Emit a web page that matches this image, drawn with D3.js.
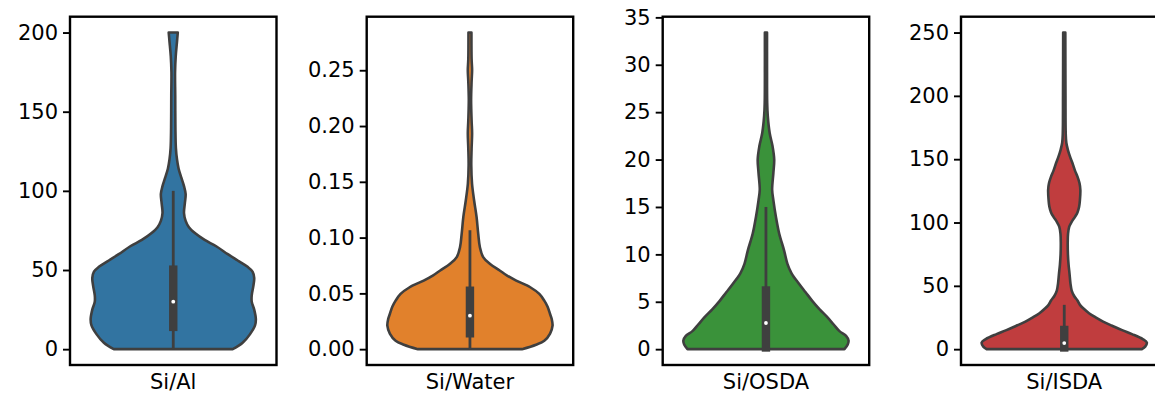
<!DOCTYPE html>
<html>
<head>
<meta charset="utf-8">
<script src="https://cdn.jsdelivr.net/npm/d3@7"></script>
<style>
  html, body { margin: 0; padding: 0; background: #fff; }
  svg { display: block; }
  text { font-family: "DejaVu Sans", sans-serif; fill: #000; }
</style>
</head>
<body>
<svg id="chart" width="1155" height="393"></svg>
<script>
// ---------- data ----------
const categories = ["Si/Al", "Si/Water", "Si/OSDA", "Si/ISDA"];
const colors = ["#3274a1", "#e1812c", "#3a923a", "#c03d3e"];

// y-axis tick values for each panel
const ticksSiAl = [0, 50, 100, 150, 200];
const ticksSiWater = [0, 0.05, 0.10, 0.15, 0.20, 0.25];
const ticksSiOSDA = [0, 5, 10, 15, 20, 25, 30, 35];
const ticksSiISDA = [0, 50, 100, 150, 200, 250];
const tickFormats = [".0f", ".2f", ".0f", ".0f"];

// violin profiles: [value, relative density (1 = widest)]
const densitySiAl = [
  [0, 0.72], [4, 0.84], [9.5, 0.93], [15, 0.99], [19, 1.0], [25, 0.98], [30, 0.95],
  [34, 0.95], [40, 0.97], [45, 0.98], [49, 0.96], [52, 0.90], [56, 0.78], [60, 0.66],
  [65, 0.52], [69, 0.38], [73, 0.27], [77, 0.19], [81, 0.15], [86, 0.13], [92, 0.14],
  [98, 0.15], [103, 0.13], [108, 0.10], [114, 0.065], [120, 0.045], [127, 0.032],
  [140, 0.026], [160, 0.024], [175, 0.022], [185, 0.03], [194, 0.045], [200, 0.055]
];
const densitySiWater = [
  [0, 0.63], [0.004, 0.80], [0.0075, 0.90], [0.014, 0.97], [0.021, 1.0], [0.027, 0.99],
  [0.0315, 0.97], [0.038, 0.94], [0.0435, 0.90], [0.0495, 0.84], [0.0555, 0.73],
  [0.0615, 0.56], [0.066, 0.45], [0.0705, 0.36], [0.0765, 0.24], [0.0825, 0.16],
  [0.0915, 0.12], [0.1035, 0.10], [0.1185, 0.08], [0.1335, 0.05], [0.1485, 0.025],
  [0.165, 0.016], [0.18, 0.02], [0.1935, 0.026], [0.205, 0.02], [0.2235, 0.014],
  [0.24, 0.02], [0.25, 0.026], [0.26, 0.02], [0.2838, 0.018]
];
const densitySiOSDA = [
  [0, 0.95], [0.5, 0.99], [0.9, 1.0], [1.4, 0.97], [1.9, 0.89], [2.6, 0.82], [3.4, 0.74],
  [4.2, 0.65], [5.1, 0.56], [6.0, 0.48], [6.9, 0.40], [8.0, 0.31], [9.0, 0.26],
  [10.4, 0.22], [12.2, 0.16], [14.0, 0.12], [15.7, 0.09], [16.8, 0.075], [18.6, 0.09],
  [20.0, 0.10], [21.4, 0.08], [22.8, 0.045], [24.6, 0.022], [26, 0.015], [30, 0.013],
  [33.4, 0.013]
];
const densitySiISDA = [
  [0, 0.94], [2, 0.98], [5.3, 1.0], [8, 0.95], [11.9, 0.82], [15, 0.70], [18.5, 0.58],
  [21.8, 0.47], [25.1, 0.38], [28.4, 0.30], [31.7, 0.24], [35, 0.19], [38.4, 0.16],
  [42, 0.12], [46.3, 0.09], [52, 0.075], [59.5, 0.064], [67, 0.052], [75.4, 0.044],
  [84, 0.042], [91.3, 0.046], [96.6, 0.06], [100.5, 0.09], [104.5, 0.13], [108, 0.16],
  [112.4, 0.18], [118, 0.19], [125.7, 0.195], [131, 0.185], [136.2, 0.16], [141, 0.13],
  [146.8, 0.10], [152, 0.07], [157.4, 0.044], [163, 0.025], [170, 0.018], [200, 0.015],
  [250, 0.013]
];

// inner box stats: [whisker low, q1, median, q3, whisker high]
const boxSiAl = [0, 13, 30, 51.3, 100];
const boxSiWater = [0, 0.0127, 0.030, 0.0539, 0.1066];
const boxSiOSDA = [0, 0, 2.76, 6.37, 15.0];
const boxSiISDA = [0, 0, 4.8, 16.5, 35];

const densities = [densitySiAl, densitySiWater, densitySiOSDA, densitySiISDA];
const boxes = [boxSiAl, boxSiWater, boxSiOSDA, boxSiISDA];
const tickSets = [ticksSiAl, ticksSiWater, ticksSiOSDA, ticksSiISDA];

// ---------- layout ----------
const svg = d3.select("#chart");
const panelLeft = [70, 366.7, 662.7, 961];
const panelW = 206.5;
const plotTop = 16.7, plotBottom = 365;
const gray = "#3f3f3f";
const fontPx = "21px";

categories.forEach((cat, i) => {
  const dens = densities[i];
  const vmin = d3.min(dens, d => d[0]);
  const vmax = d3.max(dens, d => d[0]);
  const pad = (vmax - vmin) * 0.05;
  const y = d3.scaleLinear().domain([vmin - pad, vmax + pad]).range([plotBottom, plotTop]);
  const x = d3.scaleLinear().domain([-0.5, 0.5]).range([panelLeft[i], panelLeft[i] + panelW]);

  const g = svg.append("g");

  // violin body
  const area = d3.area()
    .y(d => y(d[0]))
    .x0(d => x(-0.4 * d[1]))
    .x1(d => x(0.4 * d[1]))
    .curve(d3.curveCatmullRom.alpha(0.5));
  g.append("path")
    .datum(dens)
    .attr("d", area)
    .attr("fill", colors[i])
    .attr("stroke", gray)
    .attr("stroke-width", 2.6)
    .attr("stroke-linejoin", "round");

  // inner box
  const [wlo, q1, med, q3, whi] = boxes[i];
  g.append("line")
    .attr("x1", x(0)).attr("x2", x(0))
    .attr("y1", y(wlo)).attr("y2", y(whi))
    .attr("stroke", gray).attr("stroke-width", 2.8);
  g.append("rect")
    .attr("x", x(0) - 4.2).attr("width", 8.4)
    .attr("y", y(q3) - 2.5).attr("height", y(q1) - y(q3) + 5)
    .attr("fill", gray);
  g.append("circle")
    .attr("cx", x(0)).attr("cy", y(med)).attr("r", 1.9)
    .attr("fill", "#fff");

  // y axis
  const axis = d3.axisLeft(y).tickValues(tickSets[i])
    .tickFormat(d3.format(tickFormats[i]))
    .tickSize(7).tickPadding(5);
  const ag = g.append("g").attr("transform", `translate(${panelLeft[i]},0)`).call(axis);
  ag.select(".domain").remove();
  ag.selectAll(".tick line").attr("stroke", "#000").attr("stroke-width", 1.9);
  ag.selectAll(".tick text")
    .attr("font-size", fontPx)
    .style("font-family", "'DejaVu Sans', sans-serif")
    .attr("fill", "#000");

  // frame
  g.append("rect")
    .attr("x", panelLeft[i]).attr("y", plotTop)
    .attr("width", panelW).attr("height", plotBottom - plotTop)
    .attr("fill", "none").attr("stroke", "#000").attr("stroke-width", 2.4);

  // category label
  g.append("text")
    .attr("x", x(0)).attr("y", 389)
    .attr("text-anchor", "middle")
    .attr("font-size", fontPx)
    .text(cat);
});
</script>
</body>
</html>
